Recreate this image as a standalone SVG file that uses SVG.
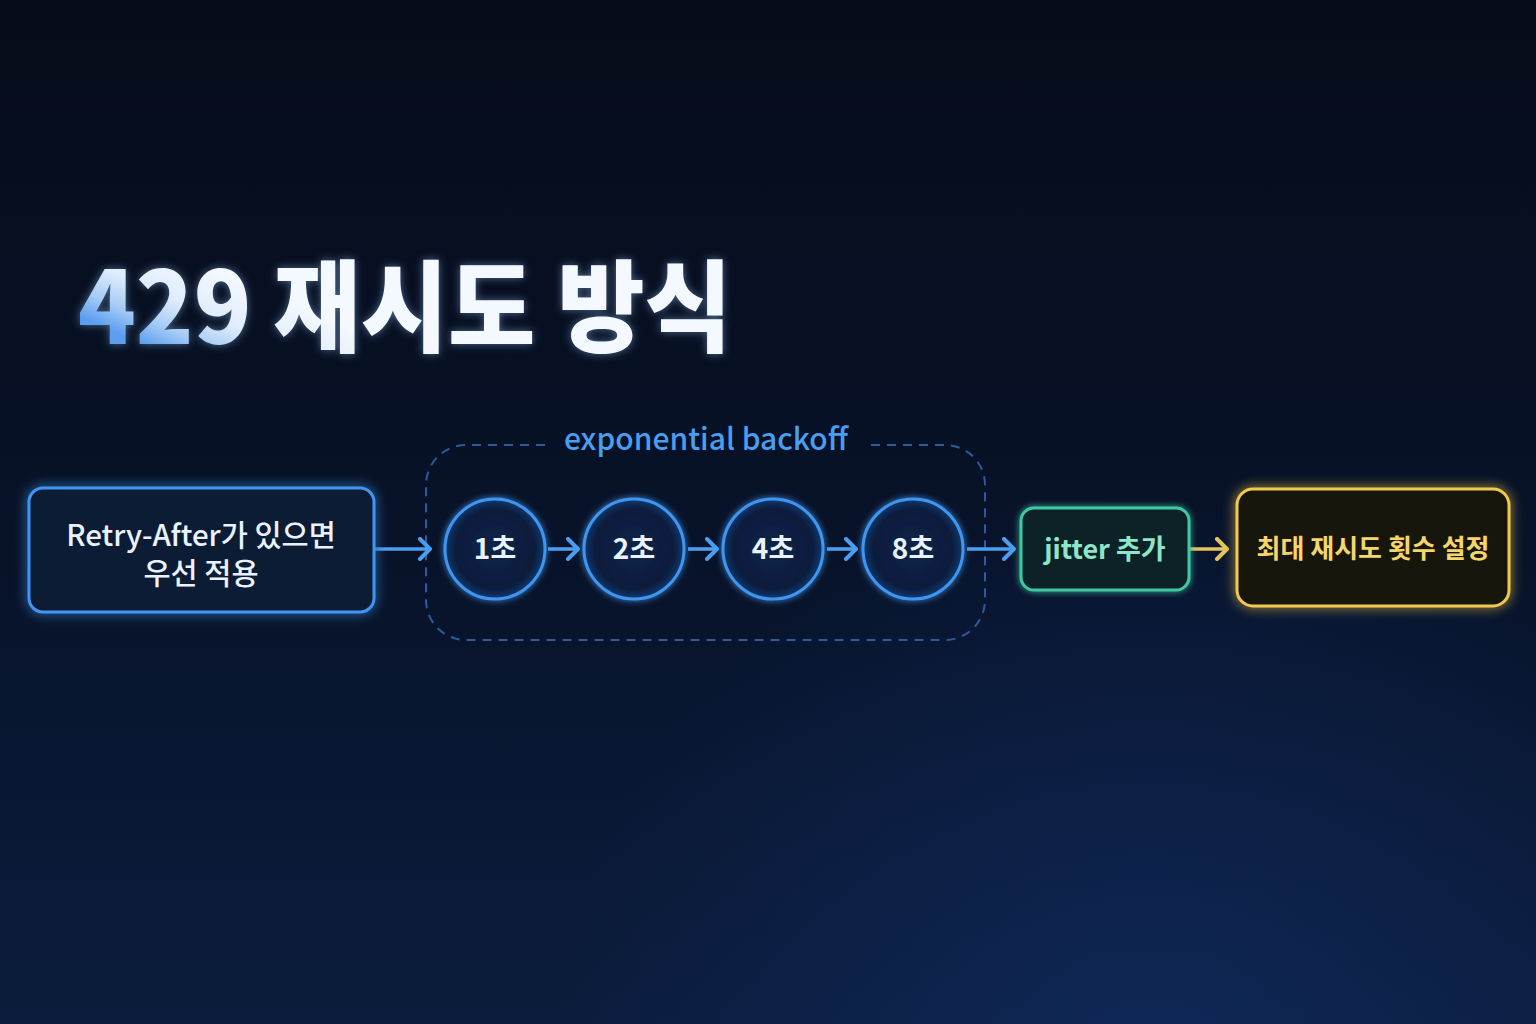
<svg xmlns="http://www.w3.org/2000/svg" width="1536" height="1024" viewBox="0 0 1536 1024">
<defs>
<linearGradient id="bg" x1="0" y1="0" x2="0" y2="1">
<stop offset="0" stop-color="#060c19"/>
<stop offset="0.55" stop-color="#08132a"/>
<stop offset="1" stop-color="#0b1c3c"/>
</linearGradient>
<radialGradient id="bgGlow" cx="1150" cy="1080" r="600" gradientUnits="userSpaceOnUse">
<stop offset="0" stop-color="#12306a" stop-opacity="0.6"/>
<stop offset="1" stop-color="#12306a" stop-opacity="0"/>
</radialGradient>
<linearGradient id="titleGrad" x1="200" y1="262" x2="160" y2="352" gradientUnits="userSpaceOnUse">
<stop offset="0" stop-color="#f4f8ff"/>
<stop offset="0.45" stop-color="#e0edfd"/>
<stop offset="0.75" stop-color="#a6cbf6"/>
<stop offset="1" stop-color="#5c9ef0"/>
</linearGradient>
<radialGradient id="circFill" cx="0.5" cy="0.5" r="0.5">
<stop offset="0" stop-color="#0d2449"/>
<stop offset="0.8" stop-color="#0b1c3c"/>
<stop offset="1" stop-color="#123a70"/>
</radialGradient>
<filter id="glow" x="-30%" y="-30%" width="160%" height="160%">
<feGaussianBlur in="SourceGraphic" stdDeviation="6" result="b"/>
<feMerge><feMergeNode in="b"/><feMergeNode in="SourceGraphic"/></feMerge>
</filter>
<filter id="softGlow" x="-30%" y="-30%" width="160%" height="160%">
<feGaussianBlur in="SourceGraphic" stdDeviation="3" result="b"/>
<feMerge><feMergeNode in="b"/><feMergeNode in="SourceGraphic"/></feMerge>
</filter>
<filter id="textGlow" x="-10%" y="-30%" width="120%" height="160%">
<feGaussianBlur in="SourceGraphic" stdDeviation="4" result="b"/>
<feColorMatrix in="b" type="matrix" values="0 0 0 0 0.3  0 0 0 0 0.55  0 0 0 0 0.95  0 0 0 0.5 0" result="c"/>
<feMerge><feMergeNode in="c"/><feMergeNode in="SourceGraphic"/></feMerge>
</filter>
<marker id="arrBlue" viewBox="0 0 14 24" refX="12" refY="12" markerWidth="14" markerHeight="24" markerUnits="userSpaceOnUse" orient="auto">
<path d="M2,2 L12,12 L2,22" fill="none" stroke="#4a9ef0" stroke-width="4" stroke-linecap="round" stroke-linejoin="round"/>
</marker>
<marker id="arrYellow" viewBox="0 0 14 24" refX="12" refY="12" markerWidth="14" markerHeight="24" markerUnits="userSpaceOnUse" orient="auto">
<path d="M2,2 L12,12 L2,22" fill="none" stroke="#e6c35a" stroke-width="4" stroke-linecap="round" stroke-linejoin="round"/>
</marker>
</defs>
<style>
text { font-family: "Noto Sans CJK KR", "Noto Sans", sans-serif; }
.node-label { font-size: 29.5px; font-weight: 500; fill: #eaf2ff; text-anchor: middle; }
.circle-label { font-size: 28px; font-weight: 700; fill: #eaf2ff; text-anchor: middle; }
.circ { fill: url(#circFill); stroke: #3f95f0; stroke-width: 3; }
.conn { stroke: #4a9ef0; stroke-width: 3.6; fill: none; marker-end: url(#arrBlue); }
</style>

<rect width="1536" height="1024" fill="url(#bg)"/>
<rect width="1536" height="1024" fill="url(#bgGlow)"/>

<g id="title">
<text x="78" y="344" font-size="100" font-weight="900" fill="url(#titleGrad)" textLength="654" lengthAdjust="spacingAndGlyphs" filter="url(#textGlow)">429 재시도 방식</text>
</g>

<g id="backoff-group">
<path d="M545,445 L466,445 A40,40 0 0 0 426,485 L426,600 A40,40 0 0 0 466,640 L945,640 A40,40 0 0 0 985,600 L985,485 A40,40 0 0 0 945,445 L866,445" fill="none" stroke="#2a5b9e" stroke-width="2" stroke-dasharray="9 7"/>
<text x="706" y="450" font-size="30" font-weight="500" fill="#4a9ef0" text-anchor="middle">exponential backoff</text>
</g>

<g id="connectors">
<line class="conn" x1="375" y1="549" x2="430" y2="549"/>
<line class="conn" x1="548" y1="549" x2="578" y2="549"/>
<line class="conn" x1="688" y1="549" x2="717" y2="549"/>
<line class="conn" x1="827" y1="549" x2="856" y2="549"/>
<line class="conn" x1="967" y1="549" x2="1014" y2="549"/>
<line x1="1190" y1="549" x2="1227" y2="549" stroke="#e6c35a" stroke-width="3.6" fill="none" marker-end="url(#arrYellow)"/>
</g>

<g id="retry-after">
<rect x="29" y="488" width="345" height="124" rx="14" fill="#0a1a36" stroke="#3f95f0" stroke-width="3" filter="url(#glow)"/>
<text class="node-label" x="201" y="546">Retry-After가 있으면</text>
<text class="node-label" x="201" y="584">우선 적용</text>
</g>

<g id="step-1s">
<circle class="circ" cx="495" cy="549" r="50" filter="url(#softGlow)"/>
<text class="circle-label" x="495" y="559">1초</text>
</g>
<g id="step-2s">
<circle class="circ" cx="634" cy="549" r="50" filter="url(#softGlow)"/>
<text class="circle-label" x="634" y="559">2초</text>
</g>
<g id="step-4s">
<circle class="circ" cx="773" cy="549" r="50" filter="url(#softGlow)"/>
<text class="circle-label" x="773" y="559">4초</text>
</g>
<g id="step-8s">
<circle class="circ" cx="913" cy="549" r="50" filter="url(#softGlow)"/>
<text class="circle-label" x="913" y="559">8초</text>
</g>

<g id="jitter">
<rect x="1021" y="508" width="168" height="82" rx="13" fill="#0c2428" stroke="#3cc9a3" stroke-width="3" filter="url(#softGlow)"/>
<text x="1105" y="559" font-size="27" font-weight="700" fill="#8ee6c8" text-anchor="middle">jitter 추가</text>
</g>

<g id="max-retries">
<rect x="1237" y="489" width="272" height="117" rx="16" fill="#18170f" stroke="#f0c94e" stroke-width="3" filter="url(#glow)"/>
<text x="1373" y="558" font-size="26" font-weight="700" fill="#f6d66a" text-anchor="middle">최대 재시도 횟수 설정</text>
</g>
</svg>
